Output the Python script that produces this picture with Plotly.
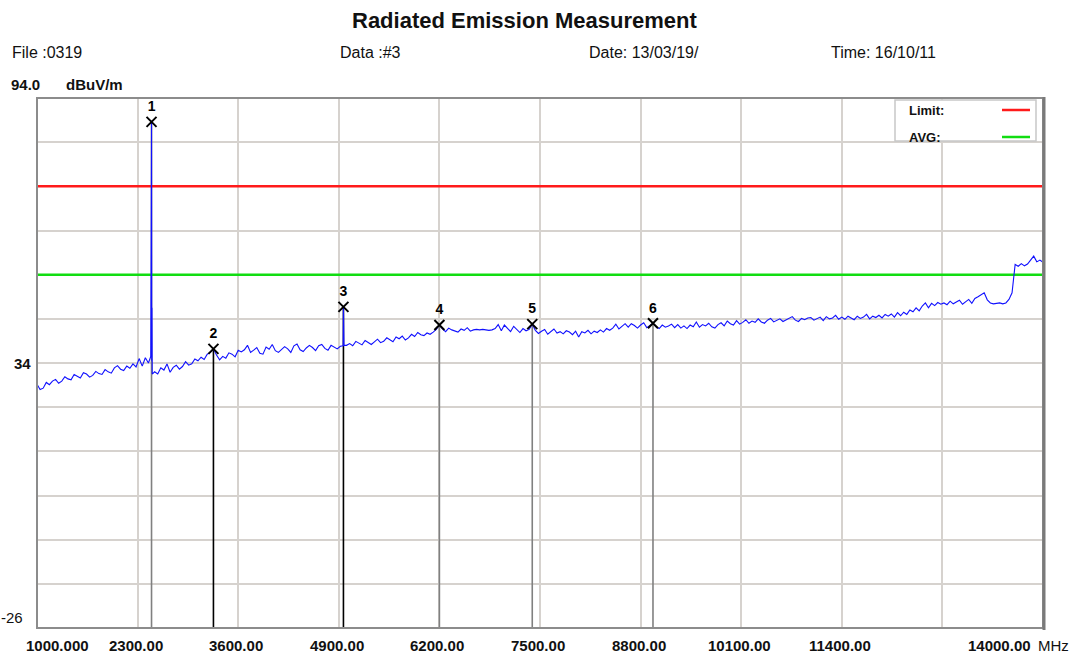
import plotly.graph_objects as go

# ---- figure geometry (pixels) ----
W, H = 1079, 655
L, R, T, B = 37, 1043, 98, 628

# ---- sweep data: 1000-14000 MHz, 40 MHz step, level in dBuV/m ----
F_START, F_STEP = 1000, 40
levels = [
    29.2, 28.0, 28.3, 29.6, 29.1, 29.9, 30.3, 29.4, 29.9, 30.9,
    30.4, 30.2, 31.4, 30.9, 30.6, 31.8, 31.5, 30.8, 31.2, 32.1,
    31.6, 31.4, 32.5, 32.0, 31.7, 32.9, 33.4, 32.6, 32.3, 33.3,
    32.8, 33.8, 33.1, 35.0, 33.3, 35.2,
    34.0, 88.6, 32.0,
    31.5, 32.9, 32.4, 33.8, 31.9, 33.0, 33.5, 32.6, 33.2, 34.3, 33.5,
    33.8, 34.9, 34.5, 35.3, 34.8, 36.0, 36.4, 37.2, 35.8, 34.7,
    35.5, 35.1, 36.3, 36.0, 35.4, 36.9, 36.5, 37.0, 38.0, 36.4,
    36.9, 37.5, 36.2, 36.0, 37.6, 37.1, 38.2, 36.8, 36.4, 37.0,
    37.7, 37.2, 36.4, 37.9, 38.3, 37.0, 36.6, 37.4, 38.0, 37.5,
    36.8, 37.9, 38.2, 37.3, 36.9, 38.0, 37.6, 37.2, 37.8,
    46.7,
    38.0, 38.4, 37.9, 38.9, 38.5, 38.1, 39.1, 38.6, 38.2, 38.8,
    39.4, 38.6, 38.9, 39.7, 39.3, 38.8, 39.9, 39.5, 40.1, 39.2,
    39.7, 40.5, 40.0, 40.9, 40.4, 40.2, 40.8, 40.5, 41.0, 41.6,
    42.6,
    41.7, 41.1, 41.9, 41.5, 41.3, 41.0, 41.7, 41.4, 42.0, 41.2,
    41.5, 41.6, 41.5, 41.6, 41.5, 41.4, 41.5, 41.8, 42.7, 41.3,
    42.6, 41.8, 41.1, 42.3, 41.5, 40.9, 41.8, 41.3, 41.6, 42.8,
    41.4, 40.7, 41.2, 41.6, 40.5, 41.0, 41.7, 40.8, 41.1, 40.6,
    41.3, 41.0, 40.4, 41.2, 39.9, 41.1, 40.8, 41.4, 40.6, 41.2,
    40.9, 41.5, 41.0, 41.8, 41.4, 41.9, 42.8, 41.7, 42.2, 42.9,
    42.1, 42.9, 42.5, 41.9, 42.6, 43.1, 42.0, 42.5,
    43.0,
    42.2, 41.8, 42.6, 42.1, 42.4, 42.8, 42.0, 42.7, 41.9, 42.4,
    41.8, 42.6, 42.2, 43.3, 42.1, 42.7, 42.4, 43.0, 42.2, 41.9,
    42.7, 43.1, 42.4, 43.5, 42.9, 42.6, 43.6, 42.8, 43.2, 43.8,
    43.0, 43.5, 43.2, 44.0, 43.3, 43.0, 43.7, 44.1, 43.3, 43.6,
    44.0, 43.4, 43.8, 44.2, 44.5, 43.7, 43.4, 44.1, 43.8, 44.2,
    44.3, 43.7, 44.1, 44.4, 43.6, 44.5, 44.0, 44.2, 44.8, 43.9,
    44.4, 43.9, 44.6, 44.2, 43.8, 44.6, 44.1, 44.4, 45.0, 44.0,
    44.6, 44.3, 44.8, 44.2, 45.0, 44.6, 45.1, 44.4, 45.4, 44.7,
    45.5, 45.0, 46.0, 45.6, 46.5, 45.8, 46.9, 47.6, 46.5, 47.5,
    47.0, 47.7, 47.3, 47.6, 47.2, 48.0, 47.4, 47.8, 48.2, 47.3,
    47.9, 48.4, 47.5, 48.6, 49.0, 49.5, 49.9, 48.3, 47.6, 47.4,
    47.5, 47.6, 47.4, 47.6, 48.4, 49.9,
    56.3, 55.9, 56.5, 56.0, 56.4, 57.4, 58.2, 56.9, 57.3, 56.8,
]
sweep_freq = [F_START + F_STEP * i for i in range(len(levels))]

# extra fine-resolution samples around the narrow emissions
spike_freq = [2470, 2472, 2474, 2477, 2483, 2486, 2489, 4956, 4964, 4967]
spike_level = [35.5, 61.8, 36.0, 36.5, 34.5, 46.5, 31.5, 37.9, 41.0, 38.0]

trace_pts = sorted(zip(sweep_freq + spike_freq, levels + spike_level))
trace_freq = [p[0] for p in trace_pts]
trace_level = [p[1] for p in trace_pts]

LIMIT_LEVEL = 74.0
AVG_LEVEL = 54.0

marker_ids = ["1", "2", "3", "4", "5", "6"]
marker_freq = [2480, 3280, 4960, 6200, 7400, 8960]
marker_level = [88.6, 37.2, 46.7, 42.6, 42.8, 43.0]
marker_line_color = ["#808080", "#000000", "#000000", "#808080", "#808080", "#808080"]

X_MIN, X_MAX = 1000, 14000
Y_MIN, Y_MAX = -26, 94
x_tick_vals = [1000, 2300, 3600, 4900, 6200, 7500, 8800, 10100, 11400, 14000]
x_tick_text = ["1000.000", "2300.00", "3600.00", "4900.00", "6200.00",
               "7500.00", "8800.00", "10100.00", "11400.00", "14000.00"]

FONT = "Liberation Sans, Arial, sans-serif"


def px(x):
    return (x - L) / (R - L)


def py(y):
    return (B - y) / (B - T)


fig = go.Figure()

# marker drop lines (drawn below the sweep)
for fq, lv, col in zip(marker_freq, marker_level, marker_line_color):
    fig.add_trace(go.Scatter(x=[fq, fq], y=[lv, Y_MIN], mode="lines",
                             line=dict(color=col, width=1.6),
                             hoverinfo="skip", showlegend=False))

# limit lines
fig.add_trace(go.Scatter(x=[X_MIN, X_MAX], y=[LIMIT_LEVEL, LIMIT_LEVEL], mode="lines",
                         line=dict(color="#ff1a1a", width=2.5), showlegend=False))
fig.add_trace(go.Scatter(x=[X_MIN, X_MAX], y=[AVG_LEVEL, AVG_LEVEL], mode="lines",
                         line=dict(color="#11dd11", width=2.5), showlegend=False))

# measured sweep
fig.add_trace(go.Scatter(x=trace_freq, y=trace_level, mode="lines",
                         line=dict(color="#1010ff", width=1.1), showlegend=False))

# peak markers
fig.add_trace(go.Scatter(x=marker_freq, y=marker_level, mode="markers+text",
                         marker=dict(symbol="x-thin", size=10,
                                     line=dict(color="black", width=2)),
                         text=[f"<b>{m}</b>" for m in marker_ids],
                         textposition="top center",
                         textfont=dict(family=FONT, size=14, color="black"),
                         showlegend=False))

annotations = []


def add_text(text, x, y, size, bold=False, anchor="left", color="#111111"):
    annotations.append(dict(
        text=f"<b>{text}</b>" if bold else text,
        xref="paper", yref="paper", x=px(x), y=py(y),
        xanchor=anchor, yanchor="middle", showarrow=False,
        font=dict(family=FONT, size=size, color=color)))


add_text("Radiated Emission Measurement", 524, 20, 22, bold=True, anchor="center")
add_text("File :0319", 10, 53, 16)
add_text("Data :#3", 338, 53, 16)
add_text("Date: 13/03/19/", 587, 53, 16)
add_text("Time: 16/10/11", 829, 53, 16)
add_text("94.0", 9, 84, 15, bold=True)
add_text("dBuV/m", 64, 84, 15, bold=True)
add_text("34", 33, 363, 15, bold=True, anchor="right")
add_text("-26", 25, 617, 15, anchor="right")
add_text("MHz", 1036, 645, 15)

# x tick labels
for v, t in zip(x_tick_vals, x_tick_text):
    if v == X_MIN:
        anchor, shift = "left", -13
    elif v == X_MAX:
        anchor, shift = "right", -10
    else:
        anchor, shift = "center", -2
    annotations.append(dict(
        text=f"<b>{t}</b>", xref="x", yref="paper", x=v, y=py(645),
        xanchor=anchor, yanchor="middle", xshift=shift, showarrow=False,
        font=dict(family=FONT, size=15, color="#111111")))

# legend box contents
add_text("Limit:", 907, 110, 13, bold=True)
add_text("AVG:", 907, 137, 13, bold=True)

shapes = [
    # legend box
    dict(type="rect", xref="paper", yref="paper",
         x0=px(895), x1=px(1036), y0=py(141), y1=py(100),
         line=dict(color="#c8c8c8", width=1.5), fillcolor="white", layer="above"),
    dict(type="line", xref="paper", yref="paper",
         x0=px(1002), x1=px(1030), y0=py(110), y1=py(110),
         line=dict(color="#ff1a1a", width=2.5), layer="above"),
    dict(type="line", xref="paper", yref="paper",
         x0=px(1002), x1=px(1030), y0=py(137), y1=py(137),
         line=dict(color="#11dd11", width=2.5), layer="above"),
    # plot frame
    dict(type="rect", xref="paper", yref="paper", x0=0, x1=1, y0=0, y1=1,
         line=dict(color="#8c8c8c", width=2), layer="above"),
    dict(type="line", xref="paper", yref="paper", x0=px(1044), x1=px(1044),
         y0=py(630), y1=py(97), line=dict(color="#7a7a7a", width=3), layer="above"),
]

fig.update_layout(
    width=W, height=H, autosize=False,
    margin=dict(l=L, r=W - R, t=T, b=H - B, pad=0),
    paper_bgcolor="white", plot_bgcolor="white",
    showlegend=False,
    annotations=annotations, shapes=shapes,
    xaxis=dict(range=[X_MIN, X_MAX], tick0=X_MIN, dtick=1300, showgrid=True,
               gridcolor="#d6d2ce", gridwidth=1.5, showticklabels=False,
               zeroline=False, showline=False, ticks=""),
    yaxis=dict(range=[Y_MIN, Y_MAX], tick0=Y_MIN, dtick=10, showgrid=True,
               gridcolor="#d6d2ce", gridwidth=1.5, showticklabels=False,
               zeroline=False, showline=False, ticks=""),
)

fig.write_html("out.html")
